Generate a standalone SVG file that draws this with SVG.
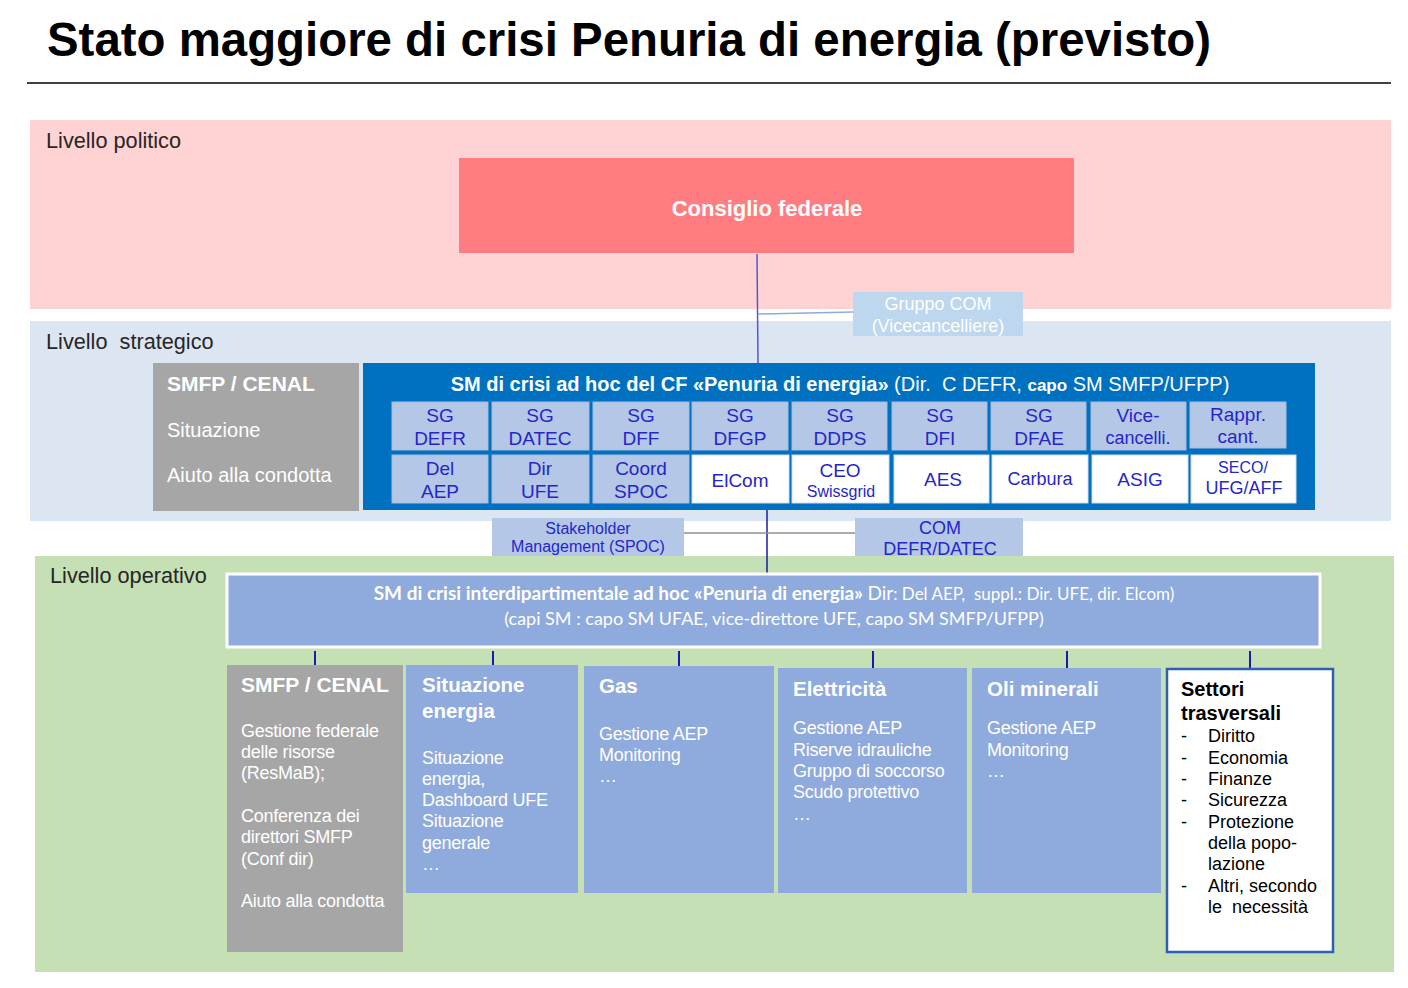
<svg xmlns="http://www.w3.org/2000/svg" width="1408" height="988" viewBox="0 0 1408 988">
<style>
text{font-family:"Liberation Sans",Arial,sans-serif}
.cell{fill:#B4C7E7;stroke:#A6BCE0;stroke-width:1}
.wcell{fill:#FFFFFF;stroke:#D0DCF0;stroke-width:1}
.ct{fill:#2626C8;font-size:19px;text-anchor:middle}
.f16{font-size:16px}
.f18{font-size:18px}
.lvl{fill:#262626;font-size:21.7px}
.wh{fill:#FFFFFF}
.hd{fill:#FFFFFF;font-size:20.5px;font-weight:bold}
.bd{fill:#FFFFFF;font-size:18px;letter-spacing:-0.25px}
.blk{fill:#000000;font-size:18px}
.cal{font-family:Lato,"Open Sans",sans-serif}
.sbox{fill:#B4C7E7}
</style>
<rect width="1408" height="988" fill="#FFFFFF"/>
<text x="47" y="56" font-size="47.4" font-weight="bold" fill="#000000">Stato maggiore di crisi Penuria di energia (previsto)</text>
<line x1="27" y1="83" x2="1391" y2="83" stroke="#000000" stroke-width="1.5"/>
<g id="bands">
<rect x="30" y="120" width="1361" height="189" fill="#FFD3D3"/>
<rect x="30" y="321" width="1361" height="200" fill="#DCE6F2"/>
<rect x="35" y="556" width="1359" height="416" fill="#C5E0B4"/>
<text class="lvl" x="46" y="148">Livello politico</text>
<text class="lvl" x="46" y="349" xml:space="preserve">Livello  strategico</text>
<text class="lvl" x="50" y="583">Livello operativo</text>
</g>
<g id="connectors">
<line x1="757" y1="254" x2="758" y2="363" stroke="#5555D0" stroke-width="1.5"/>
<line x1="758" y1="314" x2="853" y2="312" stroke="#8FAADC" stroke-width="1.5"/>
<line x1="767" y1="510" x2="767" y2="573" stroke="#1A1AA0" stroke-width="1.5"/>
<line x1="684" y1="533" x2="855" y2="533" stroke="#909090" stroke-width="1.5"/>
<g stroke="#1A1AB0" stroke-width="2">
<line x1="315" y1="651" x2="315" y2="665"/>
<line x1="493" y1="651" x2="493" y2="665"/>
<line x1="679" y1="651" x2="679" y2="666"/>
<line x1="873" y1="651" x2="873" y2="668"/>
<line x1="1067" y1="651" x2="1067" y2="668"/>
<line x1="1250" y1="651" x2="1250" y2="668"/>
</g>
</g>
<g id="consiglio">
<rect x="459" y="158" width="615" height="95" fill="#FF7C80"/>
<text x="767" y="216" text-anchor="middle" font-size="22" font-weight="bold" fill="#FFFFFF">Consiglio federale</text>
</g>
<g id="gruppo-com">
<rect x="853" y="292" width="170" height="44" fill="#BDD7EE"/>
<text x="938" y="310" text-anchor="middle" font-size="18" fill="#FFFFFF">Gruppo COM</text>
<text x="938" y="332" text-anchor="middle" font-size="18" fill="#FFFFFF">(Vicecancelliere)</text>
</g>
<g id="smfp-strat">
<rect x="153" y="363" width="206" height="148" fill="#A6A6A6"/>
<text x="167" y="391" fill="#FFFFFF" font-size="21" font-weight="bold">SMFP / CENAL</text>
<text class="wh" x="167" y="437" font-size="20">Situazione</text>
<text class="wh" x="167" y="482" font-size="20">Aiuto alla condotta</text>
</g>
<g id="sm-cf">
<rect x="363" y="363" width="952" height="147" fill="#0070C0"/>
<text x="840" y="391" text-anchor="middle" fill="#FFFFFF" font-size="20"><tspan font-weight="bold">SM di crisi ad hoc del CF «Penuria di energia»</tspan><tspan xml:space="preserve"> (Dir.  C DEFR, </tspan><tspan font-size="17" font-weight="bold">capo</tspan><tspan> SM SMFP/UFPP)</tspan></text>
<rect class="cell" x="392" y="402" width="96" height="48"/>
<rect class="cell" x="492" y="402" width="97" height="48"/>
<rect class="cell" x="593" y="402" width="96" height="48"/>
<rect class="cell" x="692" y="402" width="96" height="48"/>
<rect class="cell" x="792" y="402" width="95" height="48"/>
<rect class="cell" x="892" y="402" width="95" height="48"/>
<rect class="cell" x="991" y="402" width="95" height="48"/>
<rect class="cell" x="1091" y="402" width="95" height="48"/>
<rect class="cell" x="1190" y="402" width="96" height="46"/>
<text class="ct" x="440" y="422">SG</text><text class="ct" x="440" y="445">DEFR</text>
<text class="ct" x="540" y="422">SG</text><text class="ct" x="540" y="445">DATEC</text>
<text class="ct" x="641" y="422">SG</text><text class="ct" x="641" y="445">DFF</text>
<text class="ct" x="740" y="422">SG</text><text class="ct" x="740" y="445">DFGP</text>
<text class="ct" x="840" y="422">SG</text><text class="ct" x="840" y="445">DDPS</text>
<text class="ct" x="940" y="422">SG</text><text class="ct" x="940" y="445">DFI</text>
<text class="ct" x="1039" y="422">SG</text><text class="ct" x="1039" y="445">DFAE</text>
<text class="ct" x="1138" y="422">Vice-</text><text class="ct f18" x="1138" y="444">cancelli.</text>
<text class="ct" x="1238" y="421">Rappr.</text><text class="ct" x="1238" y="443">cant.</text>
<rect class="cell" x="392" y="455" width="96" height="48"/>
<rect class="cell" x="492" y="455" width="97" height="48"/>
<rect class="cell" x="593" y="455" width="96" height="48"/>
<rect class="wcell" x="692" y="455" width="97" height="48"/>
<rect class="wcell" x="792" y="455" width="97" height="48"/>
<rect class="wcell" x="894" y="455" width="95" height="48"/>
<rect class="wcell" x="992" y="455" width="96" height="48"/>
<rect class="wcell" x="1092" y="455" width="96" height="48"/>
<rect class="wcell" x="1191" y="455" width="105" height="48"/>
<text class="ct" x="440" y="475">Del</text><text class="ct" x="440" y="498">AEP</text>
<text class="ct" x="540" y="475">Dir</text><text class="ct" x="540" y="498">UFE</text>
<text class="ct" x="641" y="475">Coord</text><text class="ct" x="641" y="498">SPOC</text>
<text class="ct" x="740" y="487">ElCom</text>
<text class="ct" x="840" y="477">CEO</text><text class="ct f16" x="841" y="497">Swissgrid</text>
<text class="ct" x="943" y="486">AES</text>
<text class="ct f18" x="1040" y="485">Carbura</text>
<text class="ct" x="1140" y="486">ASIG</text>
<text class="ct f16" x="1243" y="473">SECO/</text><text class="ct f18" x="1244" y="494">UFG/AFF</text>
</g>
<g id="stakeholder">
<rect class="sbox" x="492" y="518" width="192" height="38"/>
<text class="ct f16" x="588" y="534">Stakeholder</text>
<text class="ct f16" x="588" y="552">Management (SPOC)</text>
</g>
<g id="com-defr">
<rect class="sbox" x="855" y="518" width="168" height="38"/>
<text class="ct f18" x="940" y="534">COM</text>
<text class="ct f18" x="940" y="555">DEFR/DATEC</text>
</g>
<g id="sm-interdip">
<rect x="227" y="574" width="1093" height="73" fill="#8FAADC" stroke="#FFFFFF" stroke-width="3"/>
<text class="cal" x="774" y="600" text-anchor="middle" fill="#FFFFFF" font-size="19"><tspan font-weight="bold">SM di crisi interdipartimentale ad hoc «Penuria di energia» </tspan><tspan>Dir</tspan><tspan font-size="17" xml:space="preserve">: Del AEP,  suppl.: Dir. UFE, dir. Elcom)</tspan></text>
<text class="cal" x="774" y="625" text-anchor="middle" fill="#FFFFFF" font-size="18">(capi SM : capo SM UFAE, vice-direttore UFE, capo SM SMFP/UFPP)</text>
</g>
<g id="smfp-op">
<rect x="227" y="665" width="176" height="287" fill="#A6A6A6"/>
<text x="241" y="692" fill="#FFFFFF" font-size="21" font-weight="bold">SMFP / CENAL</text>
<text class="bd" x="241" y="737">Gestione federale</text>
<text class="bd" x="241" y="758">delle risorse</text>
<text class="bd" x="241" y="779">(ResMaB);</text>
<text class="bd" x="241" y="822">Conferenza dei</text>
<text class="bd" x="241" y="843">direttori SMFP</text>
<text class="bd" x="241" y="865">(Conf dir)</text>
<text class="bd" x="241" y="907">Aiuto alla condotta</text>
</g>
<g id="situazione">
<rect x="406" y="665" width="172" height="228" fill="#8FAADC"/>
<text class="hd" x="422" y="692">Situazione</text>
<text class="hd" x="422" y="718">energia</text>
<text class="bd" x="422" y="764">Situazione</text>
<text class="bd" x="422" y="785">energia,</text>
<text class="bd" x="422" y="806">Dashboard UFE</text>
<text class="bd" x="422" y="827">Situazione</text>
<text class="bd" x="422" y="849">generale</text>
<text class="bd" x="422" y="870">…</text>
</g>
<g id="gas">
<rect x="584" y="666" width="190" height="227" fill="#8FAADC"/>
<text class="hd" x="599" y="693">Gas</text>
<text class="bd" x="599" y="740">Gestione AEP</text>
<text class="bd" x="599" y="761">Monitoring</text>
<text class="bd" x="599" y="782">…</text>
</g>
<g id="elettricita">
<rect x="778" y="668" width="189" height="225" fill="#8FAADC"/>
<text class="hd" x="793" y="696">Elettricità</text>
<text class="bd" x="793" y="734">Gestione AEP</text>
<text class="bd" x="793" y="756">Riserve idrauliche</text>
<text class="bd" x="793" y="777">Gruppo di soccorso</text>
<text class="bd" x="793" y="798">Scudo protettivo</text>
<text class="bd" x="793" y="820">…</text>
</g>
<g id="oli">
<rect x="972" y="668" width="189" height="225" fill="#8FAADC"/>
<text class="hd" x="987" y="696">Oli minerali</text>
<text class="bd" x="987" y="734">Gestione AEP</text>
<text class="bd" x="987" y="756">Monitoring</text>
<text class="bd" x="987" y="777">…</text>
</g>
<g id="settori">
<rect x="1167" y="669" width="166" height="283" fill="#FFFFFF" stroke="#2F5FB3" stroke-width="2.5"/>
<text x="1181" y="696" font-size="20" font-weight="bold" fill="#000000">Settori</text>
<text x="1181" y="720" font-size="20" font-weight="bold" fill="#000000">trasversali</text>
<g class="blk">
<text x="1181" y="742">-</text><text x="1208" y="742">Diritto</text>
<text x="1181" y="764">-</text><text x="1208" y="764">Economia</text>
<text x="1181" y="785">-</text><text x="1208" y="785">Finanze</text>
<text x="1181" y="806">-</text><text x="1208" y="806">Sicurezza</text>
<text x="1181" y="828">-</text><text x="1208" y="828">Protezione</text>
<text x="1208" y="849">della popo-</text>
<text x="1208" y="870">lazione</text>
<text x="1181" y="892">-</text><text x="1208" y="892">Altri, secondo</text>
<text x="1208" y="913" xml:space="preserve">le  necessità</text>
</g>
</g>
</svg>
